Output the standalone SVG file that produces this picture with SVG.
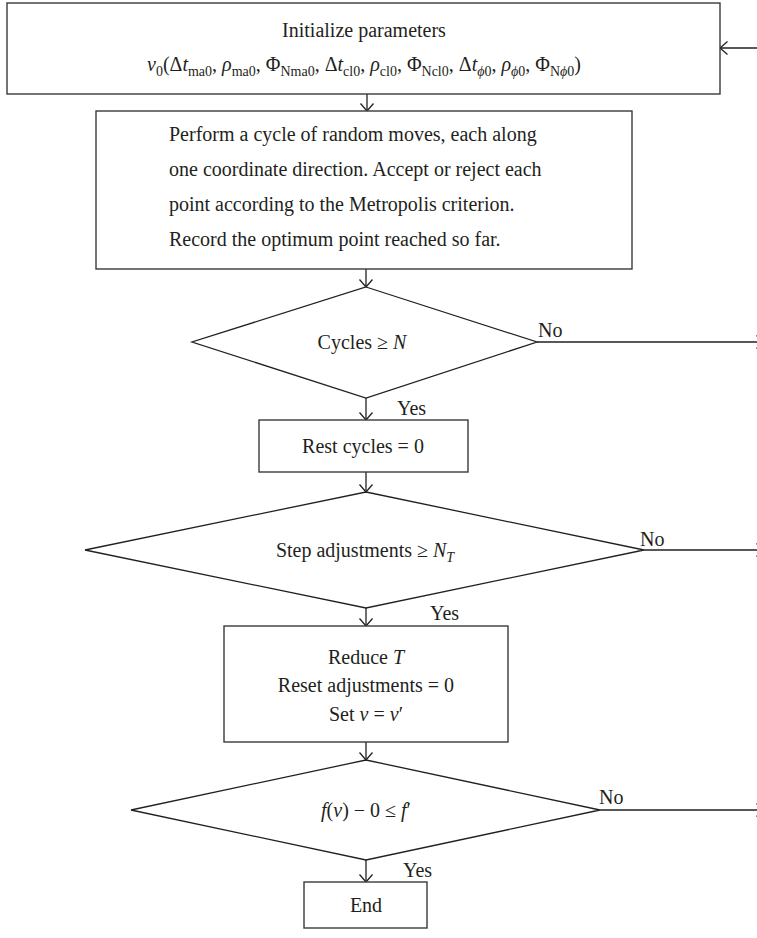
<svg xmlns="http://www.w3.org/2000/svg" width="757" height="938" viewBox="0 0 757 938">
  <style>
    .box { fill: #ffffff; stroke: #3a3a3a; stroke-width: 1.4; }
    .dia { fill: #ffffff; stroke: #231f20; stroke-width: 1.3; }
    .ln { fill: none; stroke: #231f20; stroke-width: 1.3; }
    text { font-family: "Liberation Serif", "Times New Roman", serif; font-size: 20px; fill: #231f20; }
    .c { text-anchor: middle; }
    .i { font-style: italic; }
    .sub { font-size: 14px; }
  </style>
  <defs>
    <marker id="arr" viewBox="-10 -8 12 16" refX="0" refY="0" markerWidth="12" markerHeight="16" markerUnits="userSpaceOnUse" orient="auto">
      <path d="M-7.5,-6.5 L0,0 L-7.5,6.5" fill="none" stroke="#231f20" stroke-width="1.3"/>
    </marker>
  </defs>

  <!-- connectors -->
  <g id="connectors">
    <line class="ln" x1="757" y1="48" x2="720" y2="48" marker-end="url(#arr)"/>
    <line class="ln" x1="367" y1="94" x2="367" y2="111" marker-end="url(#arr)"/>
    <line class="ln" x1="366" y1="269" x2="366" y2="287" marker-end="url(#arr)"/>
    <line class="ln" x1="537" y1="342" x2="764" y2="342" marker-end="url(#arr)"/>
    <line class="ln" x1="366" y1="398" x2="366" y2="420" marker-end="url(#arr)"/>
    <line class="ln" x1="366" y1="472" x2="366" y2="492" marker-end="url(#arr)"/>
    <line class="ln" x1="644" y1="550" x2="764" y2="550" marker-end="url(#arr)"/>
    <line class="ln" x1="366" y1="608" x2="366" y2="626" marker-end="url(#arr)"/>
    <line class="ln" x1="366" y1="742" x2="366" y2="760" marker-end="url(#arr)"/>
    <line class="ln" x1="600" y1="810" x2="764" y2="810" marker-end="url(#arr)"/>
    <line class="ln" x1="366" y1="860" x2="366" y2="882" marker-end="url(#arr)"/>
    <text x="538" y="337">No</text>
    <text x="397" y="415">Yes</text>
    <text x="640" y="546">No</text>
    <text x="430" y="620">Yes</text>
    <text x="599" y="804">No</text>
    <text x="403" y="877">Yes</text>
  </g>

  <g id="init">
    <rect class="box" x="7" y="3" width="713" height="91"/>
    <text class="c" x="364" y="37">Initialize parameters</text>
    <text class="c" x="364" y="71"><tspan class="i">v</tspan><tspan class="sub" dy="5">0</tspan><tspan dy="-5">(Δ</tspan><tspan class="i">t</tspan><tspan class="sub" dy="5">ma0</tspan><tspan dy="-5">, </tspan><tspan class="i">ρ</tspan><tspan class="sub" dy="5">ma0</tspan><tspan dy="-5">, Φ</tspan><tspan class="sub" dy="5">Nma0</tspan><tspan dy="-5">, Δ</tspan><tspan class="i">t</tspan><tspan class="sub" dy="5">cl0</tspan><tspan dy="-5">, </tspan><tspan class="i">ρ</tspan><tspan class="sub" dy="5">cl0</tspan><tspan dy="-5">, Φ</tspan><tspan class="sub" dy="5">Ncl0</tspan><tspan dy="-5">, Δ</tspan><tspan class="i">t</tspan><tspan class="sub" dy="5"><tspan class="i">ϕ</tspan>0</tspan><tspan dy="-5">, </tspan><tspan class="i">ρ</tspan><tspan class="sub" dy="5"><tspan class="i">ϕ</tspan>0</tspan><tspan dy="-5">, Φ</tspan><tspan class="sub" dy="5">N<tspan class="i">ϕ</tspan>0</tspan><tspan dy="-5">)</tspan></text>
  </g>

  <g id="cycle">
    <rect class="box" x="96" y="111" width="536" height="158"/>
    <text x="169" y="141">Perform a cycle of random moves, each along</text>
    <text x="169" y="176">one coordinate direction. Accept or reject each</text>
    <text x="169" y="211">point according to the Metropolis criterion.</text>
    <text x="169" y="246">Record the optimum point reached so far.</text>
  </g>

  <g id="check-cycles">
    <polygon class="dia" points="366,287 537,342 366,398 192,342"/>
    <text class="c" x="362" y="349">Cycles ≥ <tspan class="i">N</tspan></text>
  </g>

  <g id="reset-cycles">
    <rect class="box" x="259" y="420" width="209" height="52"/>
    <text class="c" x="363" y="453">Rest cycles = 0</text>
  </g>

  <g id="check-steps">
    <polygon class="dia" points="366,492 644,550 366,608 85,550"/>
    <text class="c" x="365" y="557">Step adjustments ≥ <tspan class="i">N</tspan><tspan class="sub i" dy="5">T</tspan></text>
  </g>

  <g id="reduce">
    <rect class="box" x="224" y="626" width="284" height="116"/>
    <text class="c" x="366" y="664">Reduce <tspan class="i">T</tspan></text>
    <text class="c" x="366" y="692">Reset adjustments = 0</text>
    <text class="c" x="366" y="721">Set <tspan class="i">v</tspan> = <tspan class="i">v</tspan>′</text>
  </g>

  <g id="check-f">
    <polygon class="dia" points="366,760 600,810 366,860 131,810"/>
    <text class="c" x="366" y="817"><tspan class="i">f</tspan>(<tspan class="i">v</tspan>) − 0 ≤ <tspan class="i">f</tspan>′</text>
  </g>

  <g id="end">
    <rect class="box" x="304" y="882" width="123" height="46"/>
    <text class="c" x="366" y="912">End</text>
  </g>
</svg>
